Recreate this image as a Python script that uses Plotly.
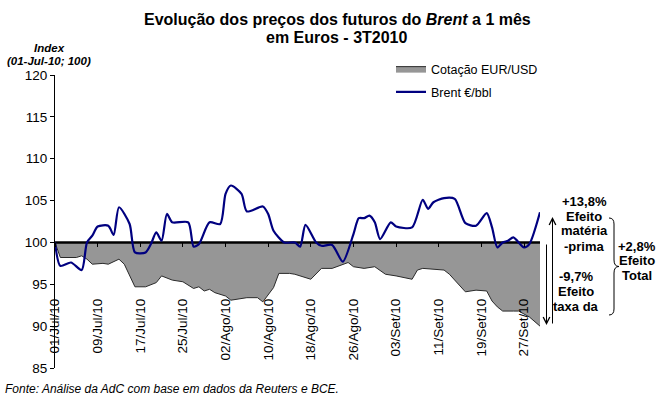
import plotly.graph_objects as go

# ---------------- data ----------------
base_index = 100
y_min, y_max = 85, 120
day_span = 91  # 01/Jul/10 -> 30/Set/10 (day offsets)

tick_days = [0, 8, 16, 24, 32, 40, 48, 56, 64, 72, 80, 88]
tick_labels = ["01/Jul/10", "09/Jul/10", "17/Jul/10", "25/Jul/10", "02/Ago/10",
               "10/Ago/10", "18/Ago/10", "26/Ago/10", "03/Set/10", "11/Set/10",
               "19/Set/10", "27/Set/10"]

brent_day = [0, 1, 3, 5, 6, 7, 8, 10, 11, 12, 14, 15, 17, 18, 19, 20, 21, 22, 25, 26,
             27, 29, 31, 32, 33, 35, 36, 39, 40, 41, 43, 45, 46, 47, 49, 50, 52, 54, 56,
             57, 58, 59, 60, 61, 63, 64, 67, 69, 70, 71, 73, 75, 77, 79, 81, 82, 83, 84,
             85, 86, 88, 89, 91]
brent_val = [100.0, 97.2, 97.6, 96.7, 100.0, 100.8, 101.9, 102.0, 100.9, 104.2, 102.2,
             98.8, 98.8, 99.8, 101.2, 100.2, 103.4, 102.4, 102.4, 99.5, 99.8, 102.4,
             102.2, 105.8, 106.8, 105.8, 103.7, 104.3, 103.4, 101.4, 100.0, 100.0, 99.5,
             102.1, 100.0, 99.6, 99.7, 97.7, 101.0, 102.9, 102.9, 103.2, 102.4, 100.4,
             102.4, 101.9, 101.8, 105.1, 104.0, 104.8, 105.3, 105.2, 102.3, 102.0, 103.5,
             101.8, 99.4, 100.0, 100.2, 100.6, 99.4, 99.8, 103.6]

eur_day = [0, 1, 4, 5, 6, 7, 9, 10, 12, 13, 15, 17, 19, 20, 22, 24, 26, 27, 28, 29, 30,
           32, 33, 36, 38, 39, 41, 42, 44, 45, 48, 50, 52, 55, 56, 58, 60, 62, 64, 67,
           68, 69, 73, 74, 77, 79, 81, 82, 83, 84, 86, 87, 89, 90, 91]
eur_val = [100.0, 98.2, 98.2, 98.4, 98.0, 97.4, 97.5, 97.4, 98.0, 97.4, 94.7, 94.7,
           95.2, 96.0, 95.5, 95.3, 94.5, 94.7, 94.2, 94.4, 94.0, 93.6, 93.1, 93.4, 93.4,
           92.9, 94.6, 96.3, 96.3, 96.2, 95.6, 96.9, 96.9, 97.6, 97.1, 96.9, 97.1, 96.2,
           96.0, 95.6, 96.7, 96.9, 96.7, 96.2, 94.1, 94.3, 94.2, 93.0, 92.3, 91.8, 91.8,
           91.8, 91.1, 90.5, 90.0]

# ---------------- layout helpers ----------------
W, H = 656, 400
L, R, T, B = 55, 116, 75, 32
PW, PH = W - L - R, H - T - B


def fx(px):
    return (px - L) / PW


def fy(py):
    return (H - B - py) / PH


FONT = "Liberation Sans, Arial, sans-serif"

fig = go.Figure()

fig.add_trace(go.Scatter(x=eur_day, y=[base_index] * len(eur_day), mode="lines",
                         line=dict(width=0, color="rgba(0,0,0,0)"),
                         showlegend=False, hoverinfo="skip"))
fig.add_trace(go.Scatter(x=eur_day, y=eur_val, mode="lines", fill="tonexty",
                         fillcolor="#969696", line=dict(color="#2a2a2a", width=1),
                         name="Cotação EUR/USD", legendgroup="a"))
fig.add_trace(go.Scatter(x=[0, day_span], y=[base_index, base_index], mode="lines",
                         line=dict(color="black", width=2.5), showlegend=False,
                         hoverinfo="skip"))
fig.add_trace(go.Scatter(x=brent_day, y=brent_val, mode="lines",
                         line=dict(color="#000080", width=2.2, shape="spline", smoothing=0.7),
                         name="Brent €/bbl", legendgroup="b"))

fig.update_layout(
    width=W, height=H,
    margin=dict(l=L, r=R, t=T, b=B),
    paper_bgcolor="white", plot_bgcolor="white",
    font=dict(family=FONT, size=13, color="black"),
    legend=dict(x=fx(391), y=fy(54), xanchor="left", yanchor="top",
                font=dict(size=12.5, family=FONT), bgcolor="rgba(0,0,0,0)",
                tracegroupgap=4, itemwidth=30),
    xaxis=dict(range=[0, day_span], anchor="free",
               position=(base_index - y_min) / (y_max - y_min),
               tickmode="array", tickvals=tick_days, ticktext=tick_labels,
               ticks="outside", ticklen=4, tickcolor="black", tickangle=-90,
               tickfont=dict(size=13.5), ticklabelstandoff=46,
               showline=False, showgrid=False, zeroline=False),
    yaxis=dict(range=[y_min, y_max], dtick=5, ticks="outside", ticklen=4,
               tickcolor="black", showline=True, linecolor="black", linewidth=1,
               showgrid=False, zeroline=False, tickfont=dict(size=13.5)),
)

ann = []
ann.append(dict(text="<b>Evolução dos preços dos futuros do <i>Brent</i> a 1 mês</b>",
                x=fx(337), y=fy(19), xref="paper", yref="paper", showarrow=False,
                xanchor="center", yanchor="middle", font=dict(size=16)))
ann.append(dict(text="<b>em Euros - 3T2010</b>",
                x=fx(337), y=fy(37), xref="paper", yref="paper", showarrow=False,
                xanchor="center", yanchor="middle", font=dict(size=16)))
ann.append(dict(text="<b><i>Index</i></b>",
                x=fx(49), y=fy(48), xref="paper", yref="paper", showarrow=False,
                xanchor="center", yanchor="middle", font=dict(size=11.5)))
ann.append(dict(text="<b><i>(01-Jul-10; 100)</i></b>",
                x=fx(48.5), y=fy(60.5), xref="paper", yref="paper", showarrow=False,
                xanchor="center", yanchor="middle", font=dict(size=11.5)))
ann.append(dict(text="<i>Fonte: Análise da AdC com base em dados da Reuters e BCE.</i>",
                x=fx(3), y=fy(389), xref="paper", yref="paper", showarrow=False,
                xanchor="left", yanchor="middle", font=dict(size=12)))

groups = [
    (584, [("+13,8%", 201.7), ("Efeito", 216), ("matéria", 231), ("-prima", 246.5)]),
    (576, [("-9,7%", 276.7), ("Efeito", 291), ("taxa da", 306)]),
    (637, [("+2,8%", 246), ("Efeito", 260.5), ("Total", 275)]),
]
for cx, lines in groups:
    for txt, cy in lines:
        ann.append(dict(text="<b>" + txt + "</b>", x=fx(cx), y=fy(cy), xref="paper",
                        yref="paper", showarrow=False, xanchor="center",
                        yanchor="middle", font=dict(size=13)))

# arrows
ann.append(dict(text="", x=fx(552.5), y=fy(217), xref="paper", yref="paper",
                ax=0, ay=108, showarrow=True, arrowhead=5, arrowsize=1.3,
                arrowwidth=1, arrowcolor="black", standoff=0))
ann.append(dict(text="", x=fx(546.5), y=fy(325), xref="paper", yref="paper",
                ax=0, ay=-82, showarrow=True, arrowhead=5, arrowsize=1.3,
                arrowwidth=1, arrowcolor="black", standoff=0))
fig.update_layout(annotations=ann)

# curly brace
def P(x, y):
    return f"{fx(x):.5f},{fy(y):.5f}"

brace = ("M " + P(609, 218) + " Q " + P(614, 218) + " " + P(614, 224) +
         " L " + P(614, 260) + " Q " + P(614, 266.5) + " " + P(619, 266.5) +
         " Q " + P(614, 266.5) + " " + P(614, 273) +
         " L " + P(614, 309) + " Q " + P(614, 315) + " " + P(609, 315))
fig.add_shape(type="path", path=brace, xref="paper", yref="paper",
              line=dict(color="black", width=1))

fig.write_html("out.html", config={"displayModeBar": False},
               post_script="document.body.style.margin='0';")
